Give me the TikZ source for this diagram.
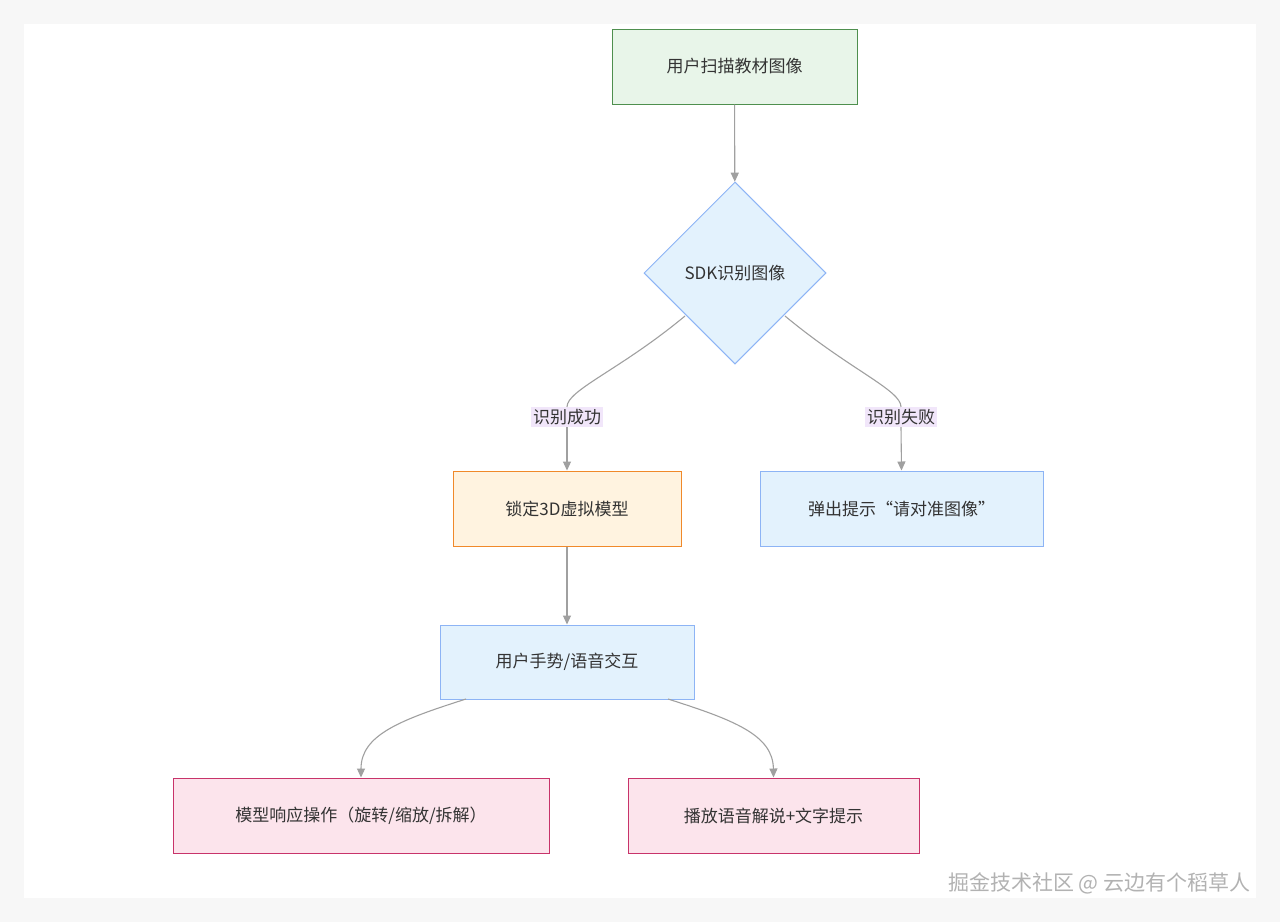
\documentclass[tikz,border=0pt]{standalone}
\usepackage{fontspec}
\setmainfont{Noto Sans CJK SC}
\usetikzlibrary{shapes.geometric,arrows.meta}
\definecolor{gfill}{HTML}{E8F5E9}\definecolor{gdraw}{HTML}{4E8F4E}
\definecolor{bfill}{HTML}{E3F2FD}\definecolor{bdraw}{HTML}{8DB4F5}
\definecolor{ofill}{HTML}{FFF3E0}\definecolor{odraw}{HTML}{F0892A}
\definecolor{pfill}{HTML}{FCE4EC}\definecolor{pdraw}{HTML}{C8336A}
\definecolor{lab}{HTML}{F1E6FA}\definecolor{edge}{HTML}{A0A0A0}
\definecolor{txt}{HTML}{333333}
\begin{document}
\begin{tikzpicture}[x=1pt,y=-1pt,
 box/.style={draw,line width=1pt,minimum height=75pt,inner sep=0pt,text=txt,font=\fontsize{17}{19}\selectfont},
 lbl/.style={fill=lab,text=txt,inner sep=2pt,font=\fontsize{17}{19}\selectfont},
 arr/.style={draw=edge,line width=1.1pt,-{Triangle[length=9pt,width=8pt,fill=edge]}},
 ln/.style={draw=edge,line width=1.1pt}]
\fill[white!97!black] (0,0) rectangle (1280,922);
\fill[white] (24,24) rectangle (1256,898);
\useasboundingbox (0,0) rectangle (1280,922);
\node[box,fill=gfill,draw=gdraw,minimum width=245pt] (a) at (734.5,66.5) {用户扫描教材图像};
\node[diamond,draw=bdraw,fill=bfill,line width=1pt,minimum width=182pt,minimum height=182pt,inner sep=0pt,text=txt,font=\fontsize{17}{19}\selectfont] (d) at (735,273) {SDK识别图像};
\node[box,fill=ofill,draw=odraw,minimum width=228pt] (b) at (567,508.5) {锁定3D虚拟模型};
\node[box,fill=bfill,draw=bdraw,minimum width=283pt] (c) at (901.5,508.5) {弹出提示“请对准图像”};
\node[box,fill=bfill,draw=bdraw,minimum width=254pt,minimum height=74pt] (e) at (567,662) {用户手势/语音交互};
\node[box,fill=pfill,draw=pdraw,minimum width=376pt] (f) at (361,815.5) {模型响应操作（旋转/缩放/拆解）};
\node[box,fill=pfill,draw=pdraw,minimum width=291pt] (g) at (773.5,815.5) {播放语音解说+文字提示};
\node[lbl] (l1) at (567,417) {识别成功};
\node[lbl] (l2) at (901,417) {识别失败};
\coordinate (d1) at (685,316);
\coordinate (d2) at (785,316);
\draw[arr] (a) -- (d);
\draw[ln] (d1) .. controls (620,370) and (567,390) .. (l1.north);
\draw[arr] (l1.south) -- (b.north);
\draw[ln] (d2) .. controls (850,370) and (901,390) .. (l2.north);
\draw[arr] (l2.south) -- (c.north);
\draw[arr] (b) -- (e);
\coordinate (e1) at (466,699);\coordinate (e2) at (668,699);
\draw[arr] (e1) .. controls (400,720) and (361,735) .. (f.north);
\draw[arr] (e2) .. controls (734,720) and (773,735) .. (g.north);
\node[text=white!70!black,font=\fontsize{21}{23}\selectfont,anchor=east] (w) at (1254,883) {掘金技术社区 @ 云边有个稻草人};
\end{tikzpicture}
\end{document}
